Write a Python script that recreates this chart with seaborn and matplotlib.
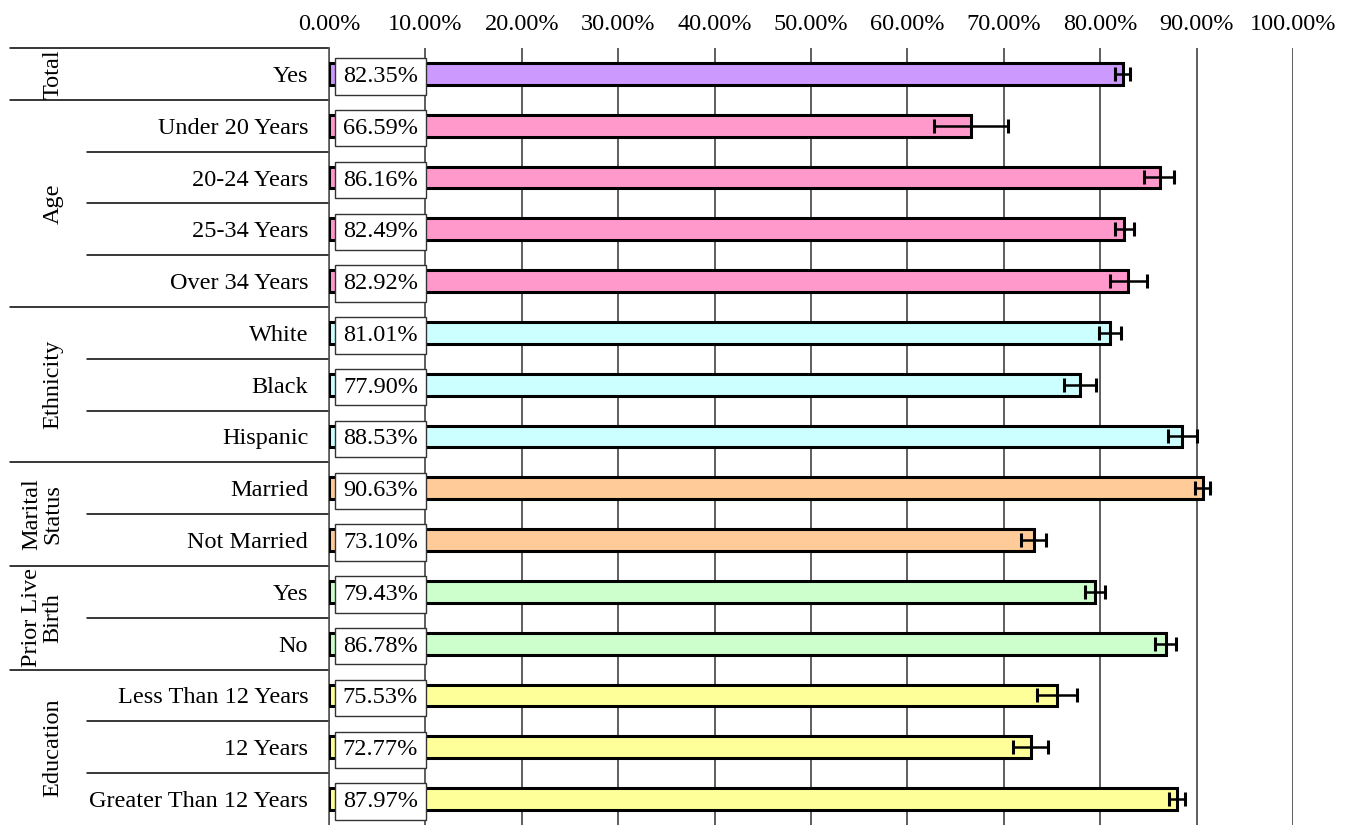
import matplotlib
matplotlib.use("Agg")
import matplotlib.pyplot as plt
import matplotlib.transforms as mtransforms
import seaborn as sns
import pandas as pd

groups = ["Total", "Age", "Age", "Age", "Age", "Ethnicity", "Ethnicity", "Ethnicity",
          "Marital Status", "Marital Status", "Prior Live Birth", "Prior Live Birth",
          "Education", "Education", "Education"]
categories = ["Yes", "Under 20 Years", "20-24 Years", "25-34 Years", "Over 34 Years",
              "White", "Black", "Hispanic", "Married", "Not Married", "Yes", "No",
              "Less Than 12 Years", "12 Years", "Greater Than 12 Years"]
values = [82.35, 66.59, 86.16, 82.49, 82.92, 81.01, 77.90, 88.53, 90.63, 73.10,
          79.43, 86.78, 75.53, 72.77, 87.97]
err_low = [0.85, 3.8, 1.6, 1.0, 1.95, 1.1, 1.7, 1.5, 0.8, 1.3, 1.05, 1.1, 2.1, 1.8, 0.85]
err_high = [0.7, 3.8, 1.5, 1.0, 1.95, 1.1, 1.7, 1.5, 0.8, 1.3, 1.05, 1.1, 2.1, 1.8, 0.85]
group_labels = ["Total", "Age", "Ethnicity", "Marital\nStatus", "Prior Live\nBirth", "Education"]
group_colors = ["#CC99FF", "#FF99CC", "#CCFFFF", "#FFCC99", "#CCFFCC", "#FFFF99"]
xticks = [0, 10, 20, 30, 40, 50, 60, 70, 80, 90, 100]

sns.set_theme(style="white")
plt.rcParams["font.family"] = ["Liberation Serif", "DejaVu Serif"]
plt.rcParams["text.color"] = "black"
plt.rcParams["xtick.color"] = "black"
plt.rcParams["ytick.color"] = "black"

FS = 17.5

keys = [f"{g}|{c}|{i}" for i, (g, c) in enumerate(zip(groups, categories))]
df = pd.DataFrame({"key": keys, "group": groups, "value": values})
uniq_groups = list(dict.fromkeys(groups))
palette = {g: c for g, c in zip(uniq_groups, group_colors)}

W, H = 1350, 825
fig = plt.figure(figsize=(13.5, 8.25), dpi=100)
left_px, right_px, top_px = 329, 1293, 48
ax = fig.add_axes([left_px / W, 0, (right_px - left_px) / W, 1 - top_px / H])

sns.barplot(data=df, x="value", y="key", hue="group", palette=palette, dodge=False,
            legend=False, width=0.42, edgecolor="black", linewidth=2.2, ax=ax,
            order=keys, hue_order=uniq_groups, saturation=1, zorder=3)

ypos = list(range(len(keys)))
ax.errorbar(values, ypos, xerr=[err_low, err_high], fmt="none", ecolor="black",
            elinewidth=1.8, capsize=5, capthick=2.2, zorder=4)

for y, v in zip(ypos, values):
    ax.text(5.34, y, f"{v:.2f}%", ha="center", va="center_baseline", fontsize=FS, zorder=5,
            bbox=dict(boxstyle="square,pad=0.32", facecolor="white", edgecolor="#333333", linewidth=1))

ax.set_xlim(0, 100)
ax.set_ylim(len(keys) - 0.5, -0.5)
ax.set_xticks(xticks)
ax.set_xticklabels([f"{t:.2f}%" for t in xticks], fontsize=FS)
ax.xaxis.tick_top()
ax.tick_params(axis="x", length=0, pad=9)
ax.set_yticks(ypos)
ax.set_yticklabels(categories, fontsize=FS)
ax.tick_params(axis="y", length=0, pad=15)
ax.set_xlabel("")
ax.set_ylabel("")
for x in xticks:
    ax.axvline(x, color="#333333", linewidth=1.1, zorder=1)
for s in ["top", "bottom", "right"]:
    ax.spines[s].set_visible(False)
ax.spines["left"].set_color("#555555")
ax.spines["left"].set_linewidth(1.2)

trans = mtransforms.blended_transform_factory(ax.transAxes, ax.transData)
span = right_px - left_px
x_far = (10 - left_px) / span
x_near = (87 - left_px) / span

boundaries = []
start = 0
for i in range(1, len(groups) + 1):
    if i == len(groups) or groups[i] != groups[i - 1]:
        boundaries.append((start, i - 1))
        start = i
ax.plot([x_far, 0], [-0.5, -0.5], transform=trans, color="black", lw=1.1, clip_on=False)
for gi, (a, b) in enumerate(boundaries):
    if b < len(groups) - 1:
        ax.plot([x_far, 0], [b + 0.5, b + 0.5], transform=trans, color="black", lw=1.1, clip_on=False)
    for r in range(a, b):
        ax.plot([x_near, 0], [r + 0.5, r + 0.5], transform=trans, color="black", lw=1.1, clip_on=False)
    lab = group_labels[gi]
    xc = (42 - left_px) / span if "\n" in lab else (53 - left_px) / span
    ax.text(xc, (a + b) / 2, lab, transform=trans, rotation=90, ha="center", va="center",
            fontsize=FS, multialignment="center", linespacing=1.0)

fig.savefig("out.png", dpi=100)
